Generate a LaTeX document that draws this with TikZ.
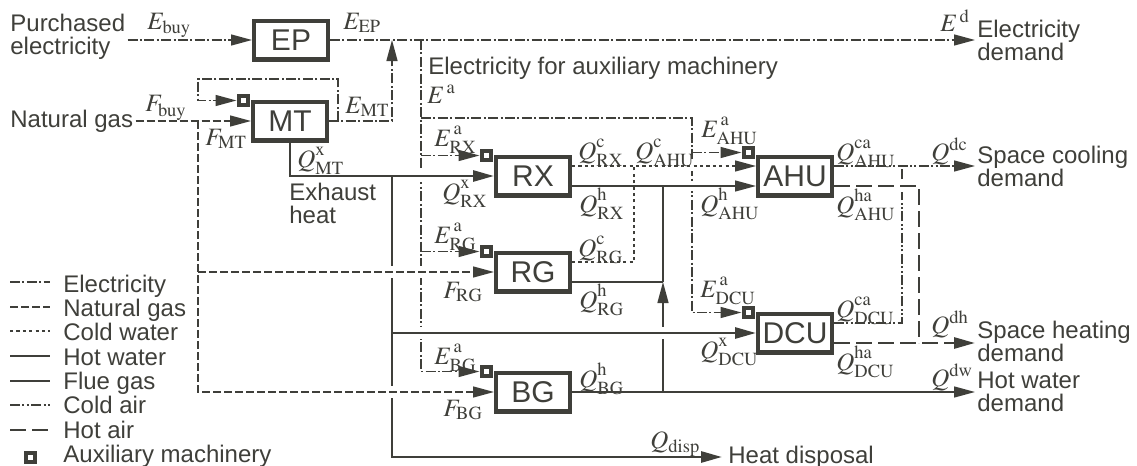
\documentclass[tikz,border=0pt]{standalone}
\usepackage{mathptmx}
\usepackage[no-math]{fontspec}
\setsansfont{Liberation Sans}
\usepackage{tikz}
\usetikzlibrary{positioning,calc,arrows.meta}
\definecolor{ink}{HTML}{3F3F3A}
\newcommand\flowsym[3]{$#1^{\raisebox{1.4pt}{$\scriptstyle\mathrm{#2}$}}_{\mathrm{#3}}$}

\begin{document}
\begin{tikzpicture}[x=0.5pt,y=-0.5pt,color=ink,font=\sffamily\fontsize{12}{11.5}\selectfont,
unit/.style={draw=ink,line width=2.2pt,fill=white,minimum width=36.8pt,minimum height=19.3pt,inner sep=0pt,font=\sffamily\fontsize{15}{15}\selectfont},
aux/.style={draw=ink,line width=2pt,fill=white,minimum size=4.5pt,inner sep=0pt},
txt/.style={inner sep=1pt,align=left},
lab/.style={inner sep=0pt,anchor=base west,font=\fontsize{12.5}{13}\selectfont},
elec/.style={line width=.7pt,dash pattern=on 5pt off 1.2pt on 1pt off 1.2pt},
gas/.style={line width=.7pt,dash pattern=on 4pt off 1.5pt},
cw/.style={line width=.7pt,dash pattern=on 1.6pt off 1.6pt},
hw/.style={line width=.7pt},
flue/.style={line width=1.4pt},
ca/.style={line width=.7pt,dash pattern=on 5pt off 1.2pt on 1pt off 1.2pt on 1pt off 1.2pt},
ha/.style={line width=1.4pt,dash pattern=on 8pt off 3pt},
arr/.style={-{Triangle[length=10.5pt,width=5.5pt]}}]
\path[use as bounding box,fill=white] (0,0) rectangle (1137,466);
% units
\node[unit] (ep) at (291,40) {EP};
\node[unit] (mt) at (290,121) {MT};
\node[unit] (rx) at (533,176) {RX};
\node[unit] (rg) at (533,272) {RG};
\node[unit] (bg) at (533,392) {BG};
\node[unit] (ahu) at (795,176) {AHU};
\node[unit] (dcu) at (795,333) {DCU};
\node[aux] (mtaux) at ($(mt.north west)+(-8,1)$) {};
\node[aux] (rxaux) at ($(rx.north west)+(-8,1)$) {};
\node[aux] (rgaux) at ($(rg.north west)+(-8,1)$) {};
\node[aux] (bgaux) at ($(bg.north west)+(-8,1)$) {};
\node[aux] (ahuaux) at ($(ahu.north west)+(-8,-2)$) {};
\node[aux] (dcuaux) at ($(dcu.north west)+(-8,1)$) {};
% inputs and demands
\node[txt,anchor=west] (pe) at (8,37) {Purchased\\electricity};
\node[txt,anchor=west] (ng) at (8,121) {Natural gas};
\node[txt,anchor=base west] (eaux) at (426,75) {Electricity for auxiliary machinery};
\node[txt,anchor=north west] (exh) at (287,181) {Exhaust\\heat};
\node[txt,anchor=west] (eld) at (975,40) {Electricity\\demand};
\node[txt,anchor=west] (scd) at (975,166) {Space cooling\\demand};
\node[txt,anchor=west] (shd) at (975,341) {Space heating\\demand};
\node[txt,anchor=west] (hwd) at (975,392) {Hot water\\demand};
\node[txt,anchor=west,inner xsep=3pt] (hd) at (722,457) {Heat disposal};
% junctions
\coordinate (ej) at (392,40);
\coordinate (mtl) at (338,121);
\coordinate (mtloop) at (198,79);
\coordinate (ea) at (421,40);
\coordinate (eb) at (692,118);
\coordinate (gj) at (198,121);
\coordinate (fj) at (392,176);
\coordinate (cj) at (634,166);
\coordinate (hm) at (663,282);
\coordinate (hj) at (663,186);
\coordinate (caj) at (902,166);
\coordinate (haj) at (919,343);
% lines that get crossed
\draw[flue,arr] (fj)|-(hd.west);
\draw[elec,arr] (ea)|-(bgaux.west);
\draw[elec,arr] (ea|-eb)--(eb)|-(dcuaux.west);
\draw[hw,arr] (bg.east-|hm)--(hm);\draw[hw] (hm)--(hj);
\draw[ca] ($(dcu.east)+(0,-10)$)-|(caj);
\fill[white] (389,266) rectangle (395,278);\fill[white] (389,386) rectangle (395,398);
\fill[white] (418,170) rectangle (424,182);\fill[white] (418,266) rectangle (424,278);\fill[white] (418,327) rectangle (424,339);
\fill[white] (660,327) rectangle (666,339);
\fill[white] (689,161) rectangle (695,171);\fill[white] (689,181) rectangle (695,191);
\fill[white] (899,180) rectangle (905,192);
% electricity
\draw[elec,arr] (pe.east|-ep.west)--(ep.west);
\draw[elec,arr] (ep.east)--(eld.west);
\draw[elec,arr] (mt.east)-|(ej);
\draw[elec,arr] (mtl)|-(mtloop)|-(mtaux.west);
\draw[elec,arr] (ea|-rxaux.west)--(rxaux.west);
\draw[elec,arr] (ea|-rgaux.west)--(rgaux.west);
\draw[elec,arr] (eb|-ahuaux.west)--(ahuaux.west);
% natural gas
\draw[gas,arr] (ng.east)--(mt.west);
\draw[gas,arr] (gj)|-(bg.west);
\draw[gas,arr] (gj|-rg.west)--(rg.west);
% flue gas
\draw[flue,arr] (mt.south)|-(rx.west);
\draw[flue,arr] (fj|-dcu.west)--(dcu.west);
% water
\draw[cw,arr] ($(rx.east)+(0,-10)$)--($(ahu.west)+(0,-10)$);
\draw[hw,arr] ($(rx.east)+(0,10)$)--($(ahu.west)+(0,10)$);
\draw[cw] ($(rg.east)+(0,-10)$)-|(cj);
\draw[hw] ($(rg.east)+(0,10)$)--(hm);
\draw[hw,arr] (bg.east)--(hwd.west);
% air
\draw[ca,arr] ($(ahu.east)+(0,-10)$)--(scd.west);
\draw[ha,arr] ($(dcu.east)+(0,10)$)--(shd.west|-haj);
\draw[ha] ($(ahu.east)+(0,10)$)-|(haj);
% labels
\node[lab] (lebuy) at (147,29) {$E_{\mathrm{buy}}$};
\node[lab] (leep) at (343,29) {$E_{\mathrm{EP}}$};
\node[lab] (led) at (940,32) {$E^{\,\mathrm{d}}$};
\node[lab] (lfbuy) at (145,112) {$F_{\mathrm{buy}}$};
\node[lab] (lfmt) at (205,145) {$F_{\mathrm{MT}}$};
\node[lab] (lemt) at (345,113) {$E_{\mathrm{MT}}$};
\node[lab] (lqmt) at (297,167) {\flowsym{Q}{x}{MT}};
\node[lab] (lea) at (427,103) {$E^{\,\mathrm{a}}$};
\node[lab] (learx) at (434,146) {\flowsym{E}{\,a}{RX}};
\node[lab] (lqxrx) at (442,200) {\flowsym{Q}{x}{RX}};
\node[lab] (lqcrx) at (578,159) {\flowsym{Q}{c}{RX}};
\node[lab] (lqcahu) at (635,159) {\flowsym{Q}{c}{AHU}};
\node[lab] (lqhrx) at (579,212) {\flowsym{Q}{h}{RX}};
\node[lab] (lqhahu) at (700,212) {\flowsym{Q}{h}{AHU}};
\node[lab] (leahu) at (701,137) {\flowsym{E}{\,a}{AHU}};
\node[lab] (lqcaahu) at (836,160) {\flowsym{Q}{ca}{AHU}};
\node[lab] (lqhaahu) at (836,213) {\flowsym{Q}{ha}{AHU}};
\node[lab] (lqdc) at (931,160) {$Q^{\mathrm{dc}}$};
\node[lab] (learg) at (434,243) {\flowsym{E}{\,a}{RG}};
\node[lab] (lqcrg) at (578,256) {\flowsym{Q}{c}{RG}};
\node[lab] (lfrg) at (443,298) {$F_{\mathrm{RG}}$};
\node[lab] (lqhrg) at (579,308) {\flowsym{Q}{h}{RG}};
\node[lab] (ledcu) at (700,297) {\flowsym{E}{\,a}{DCU}};
\node[lab] (lqxdcu) at (700,358) {\flowsym{Q}{x}{DCU}};
\node[lab] (lqcadcu) at (836,317) {\flowsym{Q}{ca}{DCU}};
\node[lab] (lqhadcu) at (836,370) {\flowsym{Q}{ha}{DCU}};
\node[lab] (lqdh) at (931,333) {$Q^{\mathrm{dh}}$};
\node[lab] (lqdw) at (931,386) {$Q^{\mathrm{dw}}$};
\node[lab] (leabg) at (434,364) {\flowsym{E}{\,a}{BG}};
\node[lab] (lfbg) at (443,416) {$F_{\mathrm{BG}}$};
\node[lab] (lqhbg) at (579,387) {\flowsym{Q}{h}{BG}};
\node[lab] (lqdisp) at (650,448) {$Q_{\mathrm{disp}}$};
% legend
\draw[elec] (10,282)--(50,282);\node[txt,anchor=base west] (lgel) at (61,292) {Electricity};
\draw[gas] (10,307)--(50,307);\node[txt,anchor=base west] (lggas) at (61,316) {Natural gas};
\draw[cw] (10,331)--(50,331);\node[txt,anchor=base west] (lgcw) at (61,340) {Cold water};
\draw[hw] (10,356)--(50,356);\node[txt,anchor=base west] (lghw) at (61,365) {Hot water};
\draw[flue] (10,381)--(50,381);\node[txt,anchor=base west] (lgfl) at (61,389) {Flue gas};
\draw[ca] (10,405)--(50,405);\node[txt,anchor=base west] (lgca) at (61,413) {Cold air};
\draw[ha] (10,430)--(50,430);\node[txt,anchor=base west] (lgha) at (61,438) {Hot air};
\node[aux] (lgsq) at (30,457) {};\node[txt,anchor=base west] (lgaux) at (61,462) {Auxiliary machinery};
\end{tikzpicture}
\end{document}
